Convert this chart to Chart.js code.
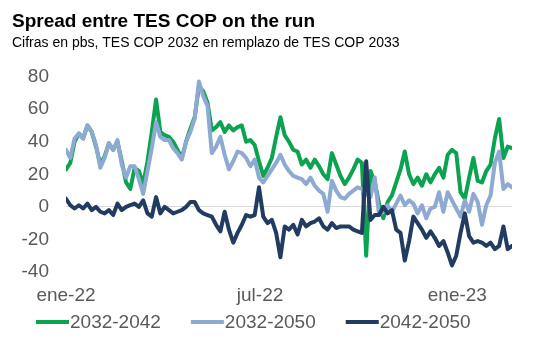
<!DOCTYPE html>
<html>
<head>
<meta charset="utf-8">
<script src="https://cdn.jsdelivr.net/npm/chart.js@4.4.1/dist/chart.umd.min.js"></script>
<style>
  html, body { margin: 0; padding: 0; background: #fff; }
  #wrap { width: 555px; height: 340px; }
</style>
</head>
<body>
<div id="wrap"><canvas id="myChart" width="555" height="340"></canvas></div>
<script>
// Días desde el 1 de enero de 2022 (muestra aproximada cada 4 días)
const days = [0, 4, 8, 12, 16, 20, 24, 28, 32, 36, 40, 44, 48, 52, 56, 60, 64, 68, 72, 76,
  80, 84, 88, 92, 96, 100, 104, 108, 112, 116, 120, 124, 128, 132, 136, 140, 144, 148, 152, 156,
  160, 164, 168, 172, 176, 180, 184, 188, 192, 196, 200, 204, 208, 212, 216, 220, 224, 228, 232, 236,
  240, 244, 248, 252, 256, 260, 264, 268, 272, 276, 280, 284, 288, 292, 296, 300, 304, 308, 312, 316,
  320, 324, 328, 332, 336, 340, 344, 348, 352, 356, 360, 364, 368, 372, 376, 380, 384, 388, 392, 396,
  400, 404, 408, 412, 416];

// Spreads en pbs
const s2032_2042 = [23, 27, 40, 45, 42, 50, 46, 37, 26, 31, 39, 35, 40, 28, 15, 11, 24, 22, 14, 28,
  46, 66, 46, 44, 43, 40, 35, 30, 40, 48, 55, 74, 71, 64, 47, 49, 52, 46, 50, 47,
  49, 50, 40, 41, 38, 28, 19, 24, 30, 43, 55, 44, 40, 35, 34, 26, 29, 24, 29, 25,
  20, 17, 33, 26, 19, 14, 18, 23, 29, 27, -30, 22, 15, 2, -7, 3, 7, 15, 23, 34,
  20, 14, 18, 13, 20, 15, 20, 24, 18, 32, 35, 33, 9, 5, 18, 30, 16, 15, 22, 26,
  42, 54, 30, 37, 36];

const s2032_2050 = [35, 30, 42, 45, 42, 50, 46, 38, 24, 30, 39, 35, 41, 26, 18, 25, 25, 17, 8, 22,
  36, 52, 43, 41, 41, 36, 33, 29, 40, 46, 54, 77, 68, 62, 33, 37, 43, 32, 23, 28,
  34, 33, 30, 25, 29, 18, 15, 19, 23, 27, 32, 26, 22, 19, 18, 17, 14, 18, 13, 10,
  8, -3, 16, 10, 6, 5, 8, 10, 12, 11, 8, 6, 18, -5, -3, 1, -3, 2, 7, 1,
  4, 2, -4, 1, -7, -1, 0, 9, -3, 9, 4, -1, -6, 4, -3, 8, 3, -11, 1, 7,
  27, 34, 11, 14, 12];

const s2042_2050 = [5, 1, -1, 1, -1, 2, -2, 0, -3, -4, -2, -5, 2, -2, 0, 1, 2, 0, 4, -4,
  -6, 6, -4, 0, -2, -4, -3, -2, 0, 3, 3, -2, -4, -5, -6, -11, -15, -3, -14, -22,
  -16, -11, -5, -6, -5, 12, -6, -10, -8, -16, -31, -12, -14, -11, -17, -8, -12, -10, -9, -7,
  -12, -14, -10, -13, -12, -12, -12, -14, -15, -16, 28, -8, -5, -5, 0, -4, -2, -14, -16, -33,
  -21, -6, -10, -14, -19, -15, -19, -24, -21, -28, -36, -30, -16, -4, -18, -22, -21, -22, -24, -22,
  -26, -24, -12, -26, -24];

const seriesNames = ["2032-2042", "2032-2050", "2042-2050"];
const seriesColors = ["#0ba34f", "#8eaad2", "#213b61"];

// Etiquetas del eje x
const tickDays = [0, 181, 365];
const tickLabels = ["ene-22", "jul-22", "ene-23"];

const font = "'Liberation Sans', Arial, sans-serif";

function points(values) {
  return days.map((d, i) => ({ x: d, y: values[i] }));
}

// Leyenda dibujada a mano (línea pegada al texto, como en Excel)
const bottomLegend = {
  id: "bottomLegend",
  afterDraw(chart) {
    const c = chart.ctx;
    c.save();
    c.font = "19px " + font;
    c.textBaseline = "middle";
    let x = 36;
    const y = 322;
    chart.data.datasets.forEach(ds => {
      c.strokeStyle = ds.borderColor;
      c.lineWidth = 4;
      c.beginPath();
      c.moveTo(x, y);
      c.lineTo(x + 33, y);
      c.stroke();
      c.fillStyle = "#595959";
      c.fillText(ds.label, x + 34, y + 1);
      x += 34 + c.measureText(ds.label).width + 30;
    });
    c.restore();
  }
};

const ctx = document.getElementById("myChart").getContext("2d");

const chart = new Chart(ctx, {
  type: "line",
  data: {
    datasets: [
      { label: seriesNames[0], data: points(s2032_2042), borderColor: seriesColors[0], order: 3 },
      { label: seriesNames[1], data: points(s2032_2050), borderColor: seriesColors[1], order: 2 },
      { label: seriesNames[2], data: points(s2042_2050), borderColor: seriesColors[2], order: 1 }
    ]
  },
  options: {
    responsive: false,
    animation: false,
    devicePixelRatio: 1,
    layout: { padding: { left: 12, right: 43, top: 0, bottom: 32 } },
    elements: {
      line: { borderWidth: 4, tension: 0, borderJoinStyle: "round", borderCapStyle: "round" },
      point: { radius: 0 }
    },
    plugins: {
      legend: { display: false },
      tooltip: { enabled: false },
      title: {
        display: true,
        text: "Spread entre TES COP on the run",
        align: "start",
        color: "#000",
        font: { family: font, size: 19, weight: "bold" },
        padding: { top: 10, bottom: 1 }
      },
      subtitle: {
        display: true,
        text: "Cifras en pbs, TES COP 2032 en remplazo de TES COP 2033",
        align: "start",
        color: "#000",
        font: { family: font, size: 14 },
        padding: { top: 1, bottom: 25 }
      }
    },
    scales: {
      x: {
        type: "linear",
        min: 0,
        max: 416,
        grid: { display: false },
        border: { display: false },
        afterBuildTicks(scale) {
          scale.ticks = tickDays.map(v => ({ value: v }));
        },
        afterFit(scale) { scale.height = 36; },
        ticks: {
          padding: 4,
          maxRotation: 0,
          autoSkip: false,
          color: "#595959",
          font: { family: font, size: 19 },
          callback: (value) => tickLabels[tickDays.indexOf(value)]
        }
      },
      y: {
        min: -40,
        max: 80,
        afterFit(scale) { scale.width = 54; },
        border: { display: false },
        grid: {
          drawTicks: false,
          color: (c) => (c.tick && c.tick.value === 0 ? "#d9d9d9" : "transparent"),
          lineWidth: 1
        },
        ticks: {
          stepSize: 20,
          padding: 17,
          color: "#595959",
          font: { family: font, size: 19 }
        }
      }
    }
  },
  plugins: [bottomLegend]
});
</script>
</body>
</html>
